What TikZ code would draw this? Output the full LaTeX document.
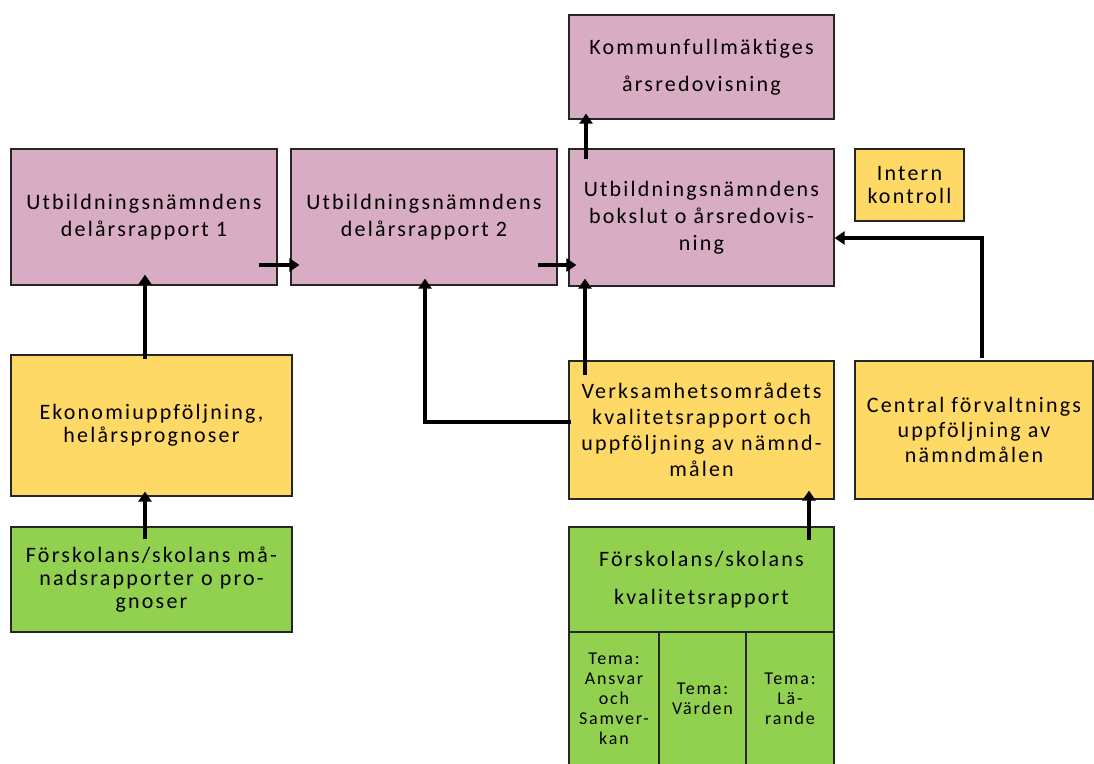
\documentclass[tikz,border=0pt]{standalone}
\usepackage{fontspec}
\setmainfont{Carlito}[LetterSpace=10]
\usetikzlibrary{arrows.meta,calc}
\definecolor{pinkc}{RGB}{216,172,194}
\definecolor{yell}{RGB}{255,217,102}
\definecolor{grn}{RGB}{146,208,80}
\begin{document}
\begin{tikzpicture}[x=1pt,y=-1pt,
  box/.style={draw=black!85,line width=1.2pt,inner sep=0pt,align=center},
  pinkbox/.style={box,fill=pinkc},
  yellbox/.style={box,fill=yell},
  grnbox/.style={box,fill=grn},
  arr/.style={line width=4pt,-{Triangle[length=10pt,width=13pt]}}]
\useasboundingbox (0,0) rectangle (1094,763);
% pink boxes
\node[pinkbox,minimum width=265pt,minimum height=104pt,font=\fontsize{22}{27}\selectfont] (kf) at (701.5,67) {Kommunfullmäktiges\\[10pt]årsredovisning};
\node[pinkbox,minimum width=266pt,minimum height=136pt,font=\fontsize{22}{27}\selectfont] (del1) at (144,217) {Utbildningsnämndens\\delårsrapport 1};
\node[pinkbox,minimum width=266pt,minimum height=136pt,font=\fontsize{22}{27}\selectfont] (del2) at (424,217) {Utbildningsnämndens\\delårsrapport 2};
\node[pinkbox,minimum width=265pt,minimum height=137pt,font=\fontsize{22}{27}\selectfont] (bok) at (701.5,217.5) {Utbildningsnämndens\\bokslut o årsredovis-\\ning};
% yellow boxes
\node[yellbox,minimum width=109pt,minimum height=72pt,font=\fontsize{22}{23}\selectfont] (intern) at (909.5,185) {Intern\\kontroll};
\node[yellbox,minimum width=281pt,minimum height=141pt,font=\fontsize{22}{23}\selectfont] (eko) at (151.5,425.5) {Ekonomiuppföljning,\\helårsprognoser};
\node[yellbox,minimum width=265pt,minimum height=138pt,font=\fontsize{22}{26}\selectfont] (verk) at (701.5,430) {Verksamhetsområdets\\kvalitetsrapport och\\uppföljning av nämnd-\\målen};
\node[yellbox,minimum width=238pt,minimum height=138pt,font=\fontsize{22}{25}\selectfont] (central) at (974,430) {Central förvaltnings\\uppföljning av\\nämndmålen};
% green boxes
\node[grnbox,minimum width=281pt,minimum height=105pt,font=\fontsize{22}{23}\selectfont] (gm) at (151.5,579.5) {Förskolans/skolans må-\\nadsrapporter o pro-\\gnoser};
\node[grnbox,minimum width=265pt,minimum height=105pt,font=\fontsize{22}{27}\selectfont] (gk) at (701.5,579.5) {Förskolans/skolans\\[11pt]kvalitetsrapport};
\node[grnbox,minimum width=90pt,minimum height=133pt,font=\fontsize{18}{20}\selectfont] (t1) at (614,698.5) {Tema:\\Ansvar\\och\\Samver-\\kan};
\node[grnbox,minimum width=87pt,minimum height=133pt,font=\fontsize{18}{20}\selectfont] (t2) at (702.5,698.5) {Tema:\\Värden};
\node[grnbox,minimum width=88pt,minimum height=133pt,font=\fontsize{18}{20}\selectfont] (t3) at (790,698.5) {Tema:\\Lä-\\rande};
% arrows
\draw[arr] ($(eko.north)+(-6.5,5)$) -- ($(del1.south)+(1,-11)$);
\draw[arr] ($(gm.north)+(-6.5,13)$) -- ($(eko.south)+(-6.5,-5)$);
\draw[arr] ($(del1.east)+(-19,48)$) -- ($(del2.west)+(9,48)$);
\draw[arr] ($(del2.east)+(-20,48)$) -- ($(bok.west)+(8,47.5)$);
\draw[arr] ($(bok.north)+(-115.5,11)$) -- ($(kf.south)+(-115.5,-6)$);
\draw[arr] ($(central.north)+(8,-2)$) |- ($(bok.east)+(0,20.5)$);
\draw[arr] ($(verk.west)+(3,-8)$) -| ($(del2.south)+(1,-7)$);
\draw[arr] ($(verk.north)+(-116.5,15)$) -- ($(bok.south)+(-116.5,-8)$);
\draw[arr] ($(gk.north)+(107.5,14)$) -- ($(verk.south)+(107.5,-9)$);
\end{tikzpicture}
\end{document}
